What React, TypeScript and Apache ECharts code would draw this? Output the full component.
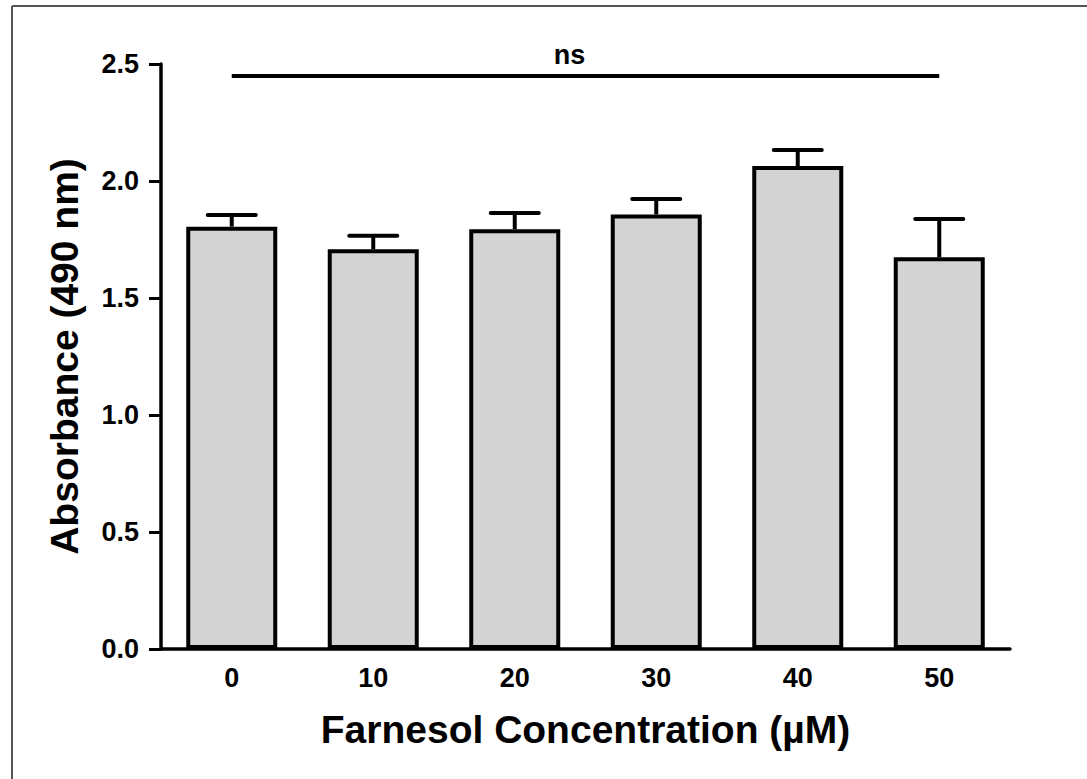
import React, { useEffect, useRef } from "react";
import * as echarts from "echarts";

const categories = ["0", "10", "20", "30", "40", "50"];
const means = [1.805, 1.708, 1.794, 1.857, 2.064, 1.674];
const sems = [0.05, 0.058, 0.069, 0.066, 0.068, 0.164];
const yTicks = { min: 0, max: 2.5, interval: 0.5 };
const sigLevel = 2.45;
const sigLabel = "ns";
const xTitle = "Farnesol Concentration (\u00B5M)";
const yTitle = "Absorbance (490 nm)";

const FONT = '"Liberation Sans", Arial, sans-serif';

export default function App() {
  const ref = useRef<HTMLDivElement>(null);
  useEffect(() => {
    if (!ref.current) return;
    const chart = echarts.init(ref.current, null, { renderer: "svg" });
    const option: any = {
      animation: false,
      backgroundColor: "#ffffff",
      grid: { left: 161, right: 77, top: 64, bottom: 130 },
      graphic: [
        { type: "line", shape: { x1: 12, y1: 6, x2: 1087, y2: 6 }, style: { stroke: "#555", lineWidth: 2 }, silent: true },
        { type: "line", shape: { x1: 12, y1: 6, x2: 12, y2: 779 }, style: { stroke: "#555", lineWidth: 2 }, silent: true },
      ],
      xAxis: {
        type: "category",
        data: categories,
        boundaryGap: true,
        name: xTitle,
        nameLocation: "middle",
        nameGap: 61,
        nameTextStyle: { fontFamily: FONT, fontWeight: "bold", fontSize: 39, color: "#000" },
        axisLine: { lineStyle: { color: "#000", width: 3.5 } },
        axisTick: { alignWithLabel: true, length: 13, lineStyle: { color: "#000", width: 3 } },
        axisLabel: { fontFamily: FONT, fontWeight: "bold", fontSize: 27, color: "#000", margin: 15 },
        splitLine: { show: false },
      },
      yAxis: {
        type: "value",
        min: yTicks.min,
        max: yTicks.max,
        interval: yTicks.interval,
        name: yTitle,
        nameLocation: "middle",
        nameGap: 77,
        nameTextStyle: { fontFamily: FONT, fontWeight: "bold", fontSize: 39, color: "#000" },
        axisLine: { show: true, lineStyle: { color: "#000", width: 3.5 } },
        axisTick: { show: true, length: 12, lineStyle: { color: "#000", width: 3 } },
        axisLabel: {
          fontFamily: FONT,
          fontWeight: "bold",
          fontSize: 27,
          color: "#000",
          margin: 22,
          formatter: (v: number) => v.toFixed(1),
        },
        splitLine: { show: false },
      },
      series: [
        {
          type: "bar",
          data: means,
          barWidth: 91,
          itemStyle: { color: "#d3d3d3", borderColor: "#000", borderWidth: 4 },
          markLine: {
            silent: true,
            symbol: ["none", "none"],
            lineStyle: { color: "#000", width: 4, type: "solid" },
            label: {
              show: true,
              position: "middle",
              formatter: sigLabel,
              fontFamily: FONT,
              fontWeight: "bold",
              fontSize: 27,
              color: "#000",
              distance: 7,
              offset: [-16, 0],
            },
            data: [[{ coord: [0, sigLevel] }, { coord: [5, sigLevel] }]],
          },
        },
        {
          type: "custom",
          data: means.map((m, i) => [i, m, sems[i]]),
          z: 5,
          renderItem: (params: any, api: any) => {
            const idx = api.value(0);
            const m = api.value(1);
            const e = api.value(2);
            const base = api.coord([idx, m]);
            const top = api.coord([idx, m + e]);
            const half = 24;
            return {
              type: "group",
              children: [
                { type: "line", shape: { x1: base[0], y1: base[1], x2: top[0], y2: top[1] }, style: { stroke: "#000", lineWidth: 4 } },
                { type: "line", shape: { x1: top[0] - half, y1: top[1], x2: top[0] + half, y2: top[1] }, style: { stroke: "#000", lineWidth: 4, lineCap: "round" } },
              ],
            };
          },
        },
      ],
    };
    chart.setOption(option);
    return () => chart.dispose();
  }, []);
  return (
    <div
      ref={ref}
      style={{ position: "fixed", left: 0, top: 0, width: 1087, height: 779, background: "#fff" }}
    />
  );
}
